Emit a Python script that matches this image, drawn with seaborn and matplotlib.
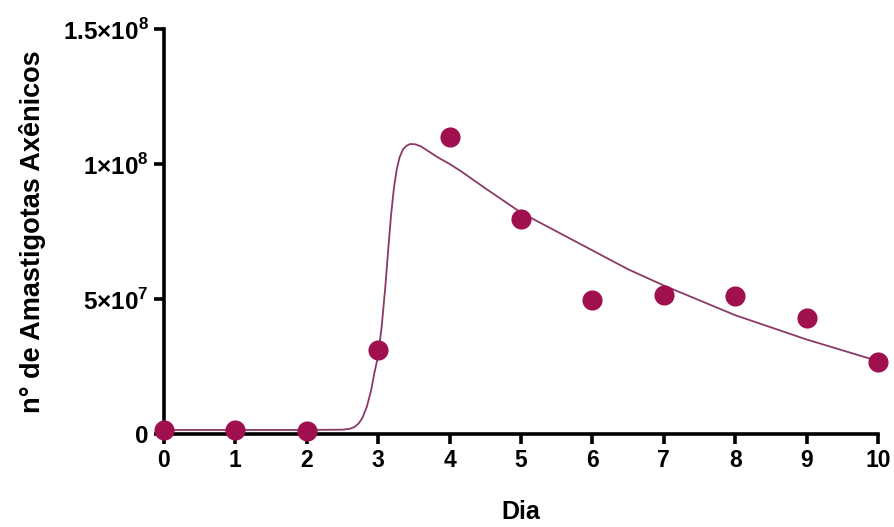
import pandas as pd
import matplotlib
matplotlib.use("Agg")
import matplotlib.pyplot as plt
import seaborn as sns

# measured points (day, count)
dias = [0, 1, 2, 3, 4, 5, 6, 7, 8, 9, 10]
amastigotas = [1.5e6, 1.5e6, 1.0e6, 3.1e7, 1.1e8, 7.95e7, 4.97e7, 5.15e7, 5.1e7, 4.3e7, 2.65e7]

# fitted curve
curva_x = [0.0, 1.0, 2.0, 2.5, 2.6, 2.67, 2.73, 2.78, 2.84, 2.9, 2.95, 3.0, 3.05, 3.10,
           3.14, 3.18, 3.22, 3.26, 3.30, 3.35, 3.40, 3.45, 3.52, 3.60, 3.70, 3.82, 4.0,
           4.15, 4.5, 5.0, 5.5, 6.0, 6.5, 7.0, 7.5, 8.0, 8.5, 9.0, 9.5, 10.0]
curva_y = [1.5e6, 1.5e6, 1.5e6, 1.6e6, 1.9e6, 2.6e6, 4.0e6, 6.0e6, 1.0e7, 1.6e7, 2.3e7,
           2.9e7, 4.0e7, 5.45e7, 6.8e7, 8.1e7, 9.1e7, 9.8e7, 1.025e8, 1.055e8, 1.068e8,
           1.074e8, 1.073e8, 1.065e8, 1.048e8, 1.027e8, 1.0e8, 9.75e7, 9.1e7, 8.2e7,
           7.5e7, 6.8e7, 6.1e7, 5.5e7, 4.95e7, 4.4e7, 3.95e7, 3.5e7, 3.1e7, 2.7e7]

y_ticks = [0, 5e7, 1e8, 1.5e8]
y_labels = ["0", r"5×10$^{\mathbf{7}}$", r"1×10$^{\mathbf{8}}$", r"1.5×10$^{\mathbf{8}}$"]

df = pd.DataFrame({"Dia": dias, "n": amastigotas})
fit = pd.DataFrame({"x": curva_x, "y": curva_y})

sns.set_theme(style="ticks")
plt.rcParams["font.family"] = ["Liberation Sans", "DejaVu Sans"]
plt.rcParams["font.weight"] = "bold"
plt.rcParams["mathtext.fontset"] = "custom"
plt.rcParams["mathtext.rm"] = "Liberation Sans:bold"
plt.rcParams["mathtext.bf"] = "Liberation Sans:bold"

fig = plt.figure(figsize=(8.94, 5.27), dpi=100)
ax = fig.add_axes([0.1834, 0.1765, 0.7987, 0.7685])

sns.lineplot(data=fit, x="x", y="y", ax=ax, color="#8a3a68", linewidth=1.3, clip_on=False)
sns.scatterplot(data=df, x="Dia", y="n", ax=ax, color="#a0104f", s=210,
                edgecolor="#a0104f", linewidth=0, clip_on=False, zorder=3)

ax.set_xlim(0, 10)
ax.set_ylim(0, 1.5e8)
ax.set_xticks(dias)
ax.set_xticklabels([str(d) for d in dias])
ax.set_yticks(y_ticks)
ax.set_yticklabels(y_labels)

sns.despine(ax=ax)
for s in ["left", "bottom"]:
    ax.spines[s].set_linewidth(2.6)
    ax.spines[s].set_color("black")
ax.tick_params(axis="both", width=2.6, length=7, labelsize=16.5, colors="black",
               labelcolor="black", pad=4)
ax.tick_params(axis="y", labelsize=17.5)

ax.set_xlabel("Dia", fontsize=18, fontweight="bold", labelpad=20, color="black")
ax.set_ylabel("n° de Amastigotas Axênicos", fontsize=19.5, fontweight="bold",
              labelpad=12, color="black")

fig.savefig("out.png", dpi=100)
